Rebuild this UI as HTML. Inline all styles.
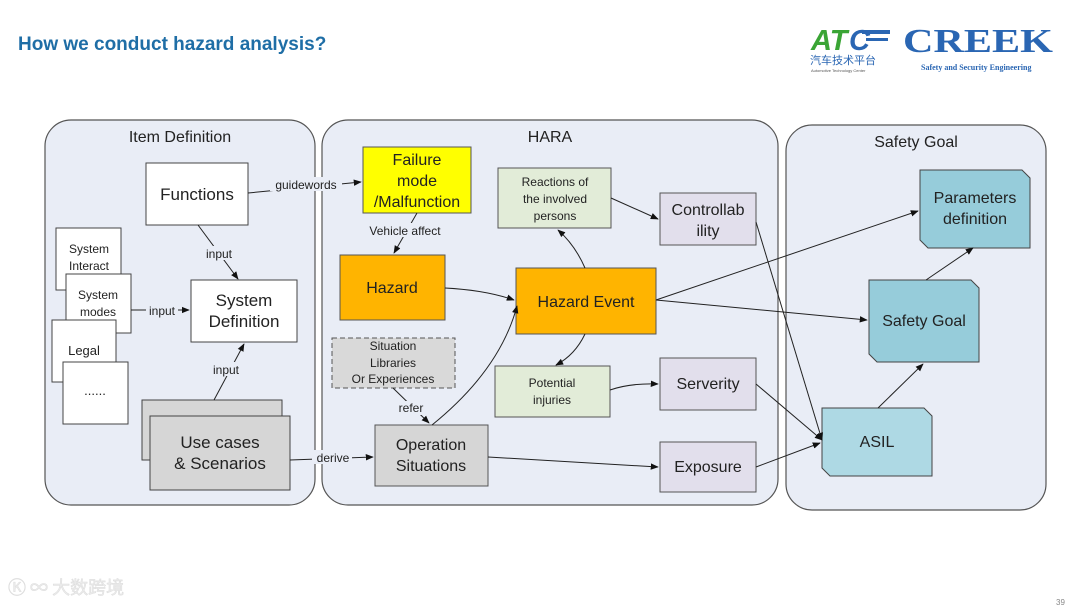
<!DOCTYPE html>
<html><head><meta charset="utf-8"><style>
html,body{margin:0;padding:0;background:#fff;width:1080px;height:608px;overflow:hidden}
svg{display:block;font-family:"Liberation Sans",Arial,sans-serif}
</style></head><body>
<svg width="1080" height="608" viewBox="0 0 1080 608" xmlns="http://www.w3.org/2000/svg">
<defs>
<marker id="a" viewBox="0 0 10 10" refX="9" refY="5" markerWidth="8" markerHeight="8" orient="auto"><path d="M0,1 L10,5 L0,9 z" fill="#111"/></marker>
</defs>
<text x="18" y="50" font-size="19" font-weight="bold" fill="#1f6ea6">How we conduct hazard analysis?</text>
<!-- logos -->
<text x="811" y="50" font-size="29" font-weight="bold" font-style="italic" fill="#3aa535">AT</text>
<text x="849" y="50" font-size="29" font-weight="bold" font-style="italic" fill="#2a66b3">C</text>
<rect x="862" y="30" width="28" height="4" fill="#2a66b3"/>
<rect x="866" y="38" width="22" height="3" fill="#2a66b3"/>
<text x="810" y="64" font-size="11" fill="#2a66b3" font-family="'Noto Sans CJK SC',sans-serif">汽车技术平台</text>
<text x="811" y="72" font-size="4" fill="#555">Automotive Technology Center</text>
<text x="903" y="52" font-size="34" font-weight="bold" fill="#2a66b3" font-family="'Liberation Serif',serif" textLength="150" lengthAdjust="spacingAndGlyphs">CREEK</text>
<text x="921" y="70" font-size="8" font-weight="bold" fill="#2a66b3" font-family="'Liberation Serif',serif">Safety and Security Engineering</text>
<text x="8" y="594" font-size="18" fill="#ececec" stroke="#dcdcdc" stroke-width="0.5" font-family="'Noto Sans CJK SC',sans-serif">Ⓚ ∞ 大数跨境</text>
<text x="1056" y="605" font-size="8" fill="#888">39</text>

<!-- containers -->
<rect x="45" y="120" width="270" height="385" rx="26" fill="#e9edf6" stroke="#555" stroke-width="1.2"/>
<rect x="322" y="120" width="456" height="385" rx="26" fill="#e9edf6" stroke="#555" stroke-width="1.2"/>
<rect x="786" y="125" width="260" height="385" rx="26" fill="#e9edf6" stroke="#555" stroke-width="1.2"/>
<g font-size="16" fill="#222" text-anchor="middle">
<text x="180" y="142">Item Definition</text>
<text x="550" y="142">HARA</text>
<text x="916" y="147">Safety Goal</text>
</g>

<!-- item definition nodes -->
<g stroke="#444" stroke-width="1">
<rect x="146" y="163" width="102" height="62" fill="#fff"/>
<rect x="191" y="280" width="106" height="62" fill="#fff"/>
<rect x="56" y="228" width="65" height="62" fill="#fff"/>
<rect x="66" y="274" width="65" height="59" fill="#fff"/>
<rect x="52" y="320" width="64" height="62" fill="#fff"/>
<rect x="63" y="362" width="65" height="62" fill="#fff"/>
<rect x="142" y="400" width="140" height="60" fill="#d6d6d6"/>
<rect x="150" y="416" width="140" height="74" fill="#d6d6d6"/>
</g>
<g fill="#222" text-anchor="middle">
<text x="197" y="200" font-size="17">Functions</text>
<text x="244" y="306" font-size="17">System</text>
<text x="244" y="327" font-size="17">Definition</text>
<text x="89" y="253" font-size="12">System</text>
<text x="89" y="270" font-size="12">Interact</text>
<text x="98" y="299" font-size="12">System</text>
<text x="98" y="316" font-size="12">modes</text>
<text x="84" y="355" font-size="13">Legal</text>
<text x="95" y="395" font-size="13">......</text>
<text x="220" y="448" font-size="17">Use cases</text>
<text x="220" y="469" font-size="17">&amp; Scenarios</text>
</g>

<!-- HARA nodes -->
<g stroke="#555" stroke-width="1">
<rect x="363" y="147" width="108" height="66" fill="#ffff00"/>
<rect x="340" y="255" width="105" height="65" fill="#ffb400"/>
<rect x="516" y="268" width="140" height="66" fill="#ffb400"/>
<rect x="498" y="168" width="113" height="60" fill="#e2ecd8"/>
<rect x="660" y="193" width="96" height="52" fill="#e2dfec"/>
<rect x="332" y="338" width="123" height="50" fill="#d9d9d9" stroke-dasharray="5,3"/>
<rect x="375" y="425" width="113" height="61" fill="#d6d6d6"/>
<rect x="495" y="366" width="115" height="51" fill="#e2ecd8"/>
<rect x="660" y="358" width="96" height="52" fill="#e2dfec"/>
<rect x="660" y="442" width="96" height="50" fill="#e2dfec"/>
</g>
<g fill="#222" text-anchor="middle">
<text x="417" y="165" font-size="16">Failure</text>
<text x="417" y="186" font-size="16">mode</text>
<text x="417" y="207" font-size="16">/Malfunction</text>
<text x="392" y="293" font-size="16">Hazard</text>
<text x="586" y="307" font-size="16">Hazard Event</text>
<text x="555" y="186" font-size="12">Reactions of</text>
<text x="555" y="203" font-size="12">the involved</text>
<text x="555" y="220" font-size="12">persons</text>
<text x="708" y="215" font-size="16">Controllab</text>
<text x="708" y="236" font-size="16">ility</text>
<text x="393" y="350" font-size="12">Situation</text>
<text x="393" y="367" font-size="12">Libraries</text>
<text x="393" y="383" font-size="12">Or Experiences</text>
<text x="431" y="450" font-size="16">Operation</text>
<text x="431" y="471" font-size="16">Situations</text>
<text x="552" y="387" font-size="12">Potential</text>
<text x="552" y="404" font-size="12">injuries</text>
<text x="708" y="389" font-size="16">Serverity</text>
<text x="708" y="472" font-size="16">Exposure</text>
</g>

<!-- safety goal nodes -->
<g stroke="#444" stroke-width="1">
<path d="M920,170 L1022,170 L1030,178 L1030,248 L928,248 L920,240 Z" fill="#96ccda"/>
<path d="M869,280 L971,280 L979,288 L979,362 L877,362 L869,354 Z" fill="#96ccda"/>
<path d="M822,408 L924,408 L932,416 L932,476 L830,476 L822,468 Z" fill="#aed9e4"/>
</g>
<g fill="#222" text-anchor="middle" font-size="16">
<text x="975" y="203">Parameters</text>
<text x="975" y="224">definition</text>
<text x="924" y="326">Safety Goal</text>
<text x="877" y="447">ASIL</text>
</g>

<!-- edges -->
<g stroke="#222" stroke-width="1" fill="none" marker-end="url(#a)">
<line x1="248" y1="193" x2="361" y2="182"/>
<line x1="198" y1="225" x2="238" y2="279"/>
<line x1="131" y1="310" x2="189" y2="310"/>
<line x1="214" y1="400" x2="244" y2="344"/>
<line x1="290" y1="460" x2="373" y2="457"/>
<line x1="417" y1="213" x2="394" y2="253"/>
<path d="M445,288 Q485,290 514,300"/>
<path d="M585,268 Q575,245 558,230"/>
<line x1="611" y1="198" x2="658" y2="219"/>
<path d="M585,334 Q575,355 556,365"/>
<path d="M610,390 Q630,383 658,384"/>
<line x1="393" y1="388" x2="429" y2="423"/>
<path d="M432,425 Q500,370 517,306"/>
<line x1="488" y1="457" x2="658" y2="467"/>
<line x1="656" y1="300" x2="918" y2="211"/>
<line x1="656" y1="300" x2="867" y2="320"/>
<line x1="756" y1="222" x2="822" y2="440"/>
<line x1="756" y1="384" x2="822" y2="440"/>
<line x1="756" y1="467" x2="820" y2="443"/>
<line x1="878" y1="408" x2="923" y2="364"/>
<line x1="926" y1="280" x2="973" y2="248"/>
</g>
<!-- edge labels -->
<g font-size="12" fill="#222" text-anchor="middle">
<rect x="270" y="177" width="72" height="14" fill="#e9edf6"/><text x="306" y="189">guidewords</text>
<rect x="202" y="246" width="34" height="14" fill="#e9edf6"/><text x="219" y="258">input</text>
<rect x="146" y="303" width="32" height="14" fill="#e9edf6"/><text x="162" y="315">input</text>
<rect x="209" y="362" width="34" height="14" fill="#e9edf6"/><text x="226" y="374">input</text>
<rect x="312" y="450" width="40" height="14" fill="#e9edf6"/><text x="333" y="462">derive</text>
<rect x="361" y="223" width="88" height="14" fill="#e9edf6"/><text x="405" y="235">Vehicle affect</text>
<rect x="395" y="401" width="32" height="14" fill="#e9edf6"/><text x="411" y="412">refer</text>
</g>
</svg>
</body></html>
